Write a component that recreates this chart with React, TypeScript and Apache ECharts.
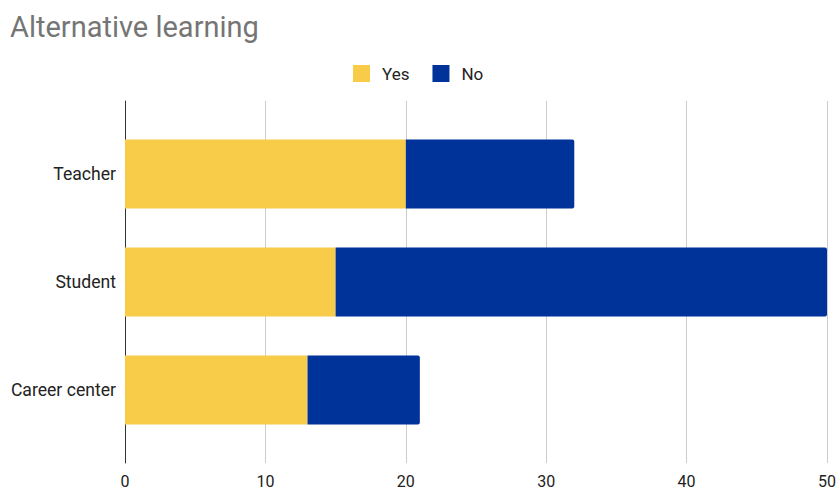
import React, { useEffect, useRef } from "react";
import * as echarts from "echarts";

const categories = ["Teacher", "Student", "Career center"];
const yesValues = [20, 15, 13];
const noValues = [12, 35, 8];
const xTicks = [0, 10, 20, 30, 40, 50];

export default function App() {
  const ref = useRef<HTMLDivElement>(null);
  useEffect(() => {
    document.body.style.margin = "0";
    const chart = echarts.init(ref.current!, null, { renderer: "svg" });
    const font = "Roboto, 'Noto Sans', sans-serif";
    chart.setOption({
      animation: false,
      textStyle: { fontFamily: font },
      title: {
        text: "Alternative learning",
        left: 5,
        top: 7,
        textStyle: { fontFamily: font, fontSize: 29, fontWeight: "normal", color: "#757575" },
      },
      legend: {
        data: ["Yes", "No"],
        left: 353,
        top: 65,
        icon: "rect",
        itemWidth: 17,
        itemHeight: 17,
        itemGap: 23,
        padding: 0,
        textStyle: { fontFamily: font, fontSize: 17, color: "#222", padding: [0, 0, 0, 7] },
      },
      grid: [
        { left: 125, right: 12, top: 101, height: 362 },
        { left: 125, right: 12, top: 120, height: 324 },
      ],
      xAxis: [
        {
          gridIndex: 0,
          type: "value",
          min: xTicks[0],
          max: xTicks[xTicks.length - 1],
          interval: 10,
          axisLine: { show: false },
          axisTick: { show: false },
          splitLine: { show: true, lineStyle: { color: "#cccccc", width: 1 } },
          axisLabel: { fontFamily: font, fontSize: 16, color: "#222", margin: 10 },
        },
        {
          gridIndex: 1,
          type: "value",
          min: xTicks[0],
          max: xTicks[xTicks.length - 1],
          show: false,
        },
      ],
      yAxis: [
        {
          gridIndex: 0,
          type: "value",
          min: 0,
          max: 1,
          axisLine: { show: true, onZero: false, lineStyle: { color: "#333", width: 1 } },
          axisTick: { show: false },
          axisLabel: { show: false },
          splitLine: { show: false },
        },
        {
          gridIndex: 1,
          type: "category",
          data: categories,
          inverse: true,
          axisLine: { show: false },
          axisTick: { show: false },
          axisLabel: {
            fontFamily: font,
            fontSize: 17.6,
            color: "#222",
            margin: 9,
            padding: [3, 0, 0, 0],
          },
        },
      ],
      series: [
        {
          name: "Yes",
          type: "bar",
          stack: "total",
          xAxisIndex: 1,
          yAxisIndex: 1,
          barWidth: 69,
          itemStyle: { color: "#f8cb48" },
          data: yesValues,
        },
        {
          name: "No",
          type: "bar",
          stack: "total",
          xAxisIndex: 1,
          yAxisIndex: 1,
          barWidth: 69,
          itemStyle: { color: "#003399", borderRadius: [0, 2, 2, 0] },
          data: noValues,
        },
      ],
    });
    return () => chart.dispose();
  }, []);
  return <div ref={ref} style={{ width: 839, height: 491 }} />;
}
